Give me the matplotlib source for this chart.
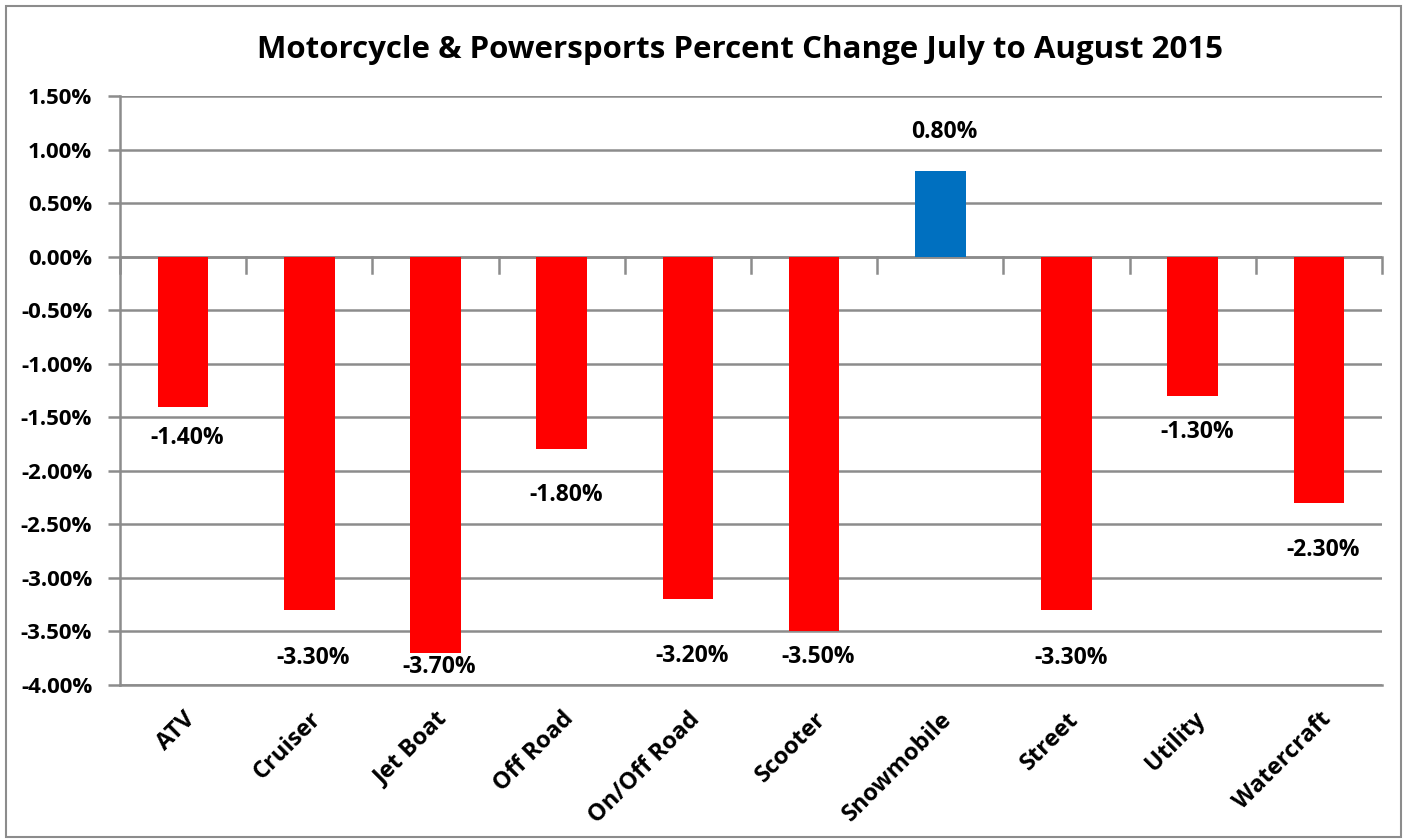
import matplotlib.pyplot as plt
from matplotlib.patches import Rectangle

plt.rcParams['font.family'] = ['Open Sans', 'DejaVu Sans']
plt.rcParams['font.weight'] = 'bold'

# data (percent change)
categories = ["ATV", "Cruiser", "Jet Boat", "Off Road", "On/Off Road",
              "Scooter", "Snowmobile", "Street", "Utility", "Watercraft"]
values = [-1.40, -3.30, -3.70, -1.80, -3.20, -3.50, 0.80, -3.30, -1.30, -2.30]
yticks = [1.5, 1.0, 0.5, 0.0, -0.5, -1.0, -1.5, -2.0, -2.5, -3.0, -3.5, -4.0]

# label placement (pixels below/above bar end, as in the original)
label_offsets_px = [31, 48, 14, 46, 57, 26, 39, 48, 36, 47]

RED = "#ff0000"
BLUE = "#0070c0"
GRID = "#8c8c8c"

fig = plt.figure(figsize=(14.06, 8.4), dpi=100)
ax = fig.add_axes([120 / 1406, 1 - 685 / 840, (1382 - 120) / 1406, (685 - 96) / 840])

# outer chart border
fig.patches.append(Rectangle((6 / 1406, 3 / 840), 1395 / 1406, 831 / 840,
                             transform=fig.transFigure, fill=False,
                             edgecolor=GRID, linewidth=1.5))

x = list(range(len(categories)))
colors = [BLUE if v > 0 else RED for v in values]
ax.bar(x, values, width=0.4, color=colors, zorder=3)

ax.set_xlim(-0.5, len(categories) - 0.5)
ax.set_ylim(-4.0, 1.5)
ax.set_yticks(yticks)
ax.set_yticklabels([f"{t:.2f}%" for t in yticks], fontsize=16)
ax.yaxis.grid(True, color=GRID, linewidth=1.8, zorder=0)
ax.tick_params(axis='y', length=9, width=1.8, color=GRID, pad=11)

# x axis crossing at zero with ticks at category boundaries
ax.axhline(0, color=GRID, linewidth=1.8, zorder=2)
for b in [i - 0.5 for i in range(len(categories) + 1)]:
    ax.plot([b, b], [0, -0.15], color=GRID, linewidth=1.8, zorder=2, clip_on=False)

ax.set_xticks(x)
ax.set_xticklabels(categories, rotation=45, ha='right', va='top',
                   rotation_mode='anchor', fontsize=17)
ax.tick_params(axis='x', length=0, pad=16)

for side in ['top', 'right']:
    ax.spines[side].set_visible(False)
for side in ['left', 'bottom']:
    ax.spines[side].set_color(GRID)
    ax.spines[side].set_linewidth(1.8)

for xi, v, off in zip(x, values, label_offsets_px):
    dy = off * 0.72 if v > 0 else -off * 0.72
    ax.annotate(f"{v:.2f}%", (xi, v), xytext=(3, dy), textcoords='offset points',
                ha='center', va='center', fontsize=16.5, fontweight='bold')

fig.text(740 / 1406, 1 - 50 / 840, "Motorcycle & Powersports Percent Change July to August 2015",
         ha='center', va='center', fontsize=22.5, fontweight='bold')

fig.savefig("out.png", dpi=100)
